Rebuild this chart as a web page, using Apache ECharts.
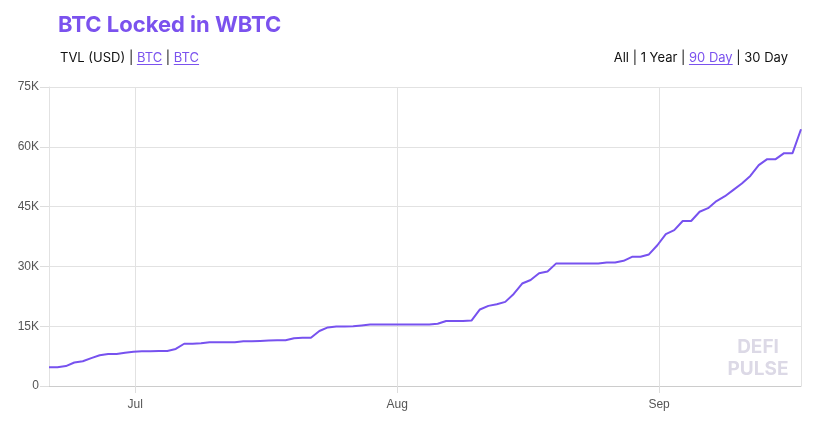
<!DOCTYPE html>
<html>
<head>
<meta charset="utf-8">
<script src="https://cdn.jsdelivr.net/npm/echarts@6/dist/echarts.min.js"></script>
<style>
html,body{margin:0;padding:0;background:#fff;}
#chart{width:828px;height:427px;}
</style>
</head>
<body>
<div id="chart"></div>
<script>
// ---- data ----
const startTime = '2020-06-20T19:00:00';
const dayCount = 90;
const values = [
  4.7, 4.7, 5.0, 5.9, 6.2, 7.0, 7.7, 8.0, 8.0, 8.35,
  8.6, 8.7, 8.7, 8.8, 8.8, 9.3, 10.6, 10.6, 10.7, 11.0,
  11.0, 11.0, 11.0, 11.2, 11.2, 11.3, 11.4, 11.5, 11.5, 12.0,
  12.1, 12.1, 13.8, 14.7, 14.9, 14.9, 15.0, 15.2, 15.4, 15.4,
  15.4, 15.4, 15.4, 15.4, 15.4, 15.4, 15.6, 16.3, 16.3, 16.3,
  16.4, 19.2, 20.1, 20.5, 21.1, 23.1, 25.7, 26.6, 28.3, 28.7,
  30.7, 30.7, 30.7, 30.7, 30.7, 30.7, 31.0, 31.0, 31.4, 32.4,
  32.4, 33.0, 35.3, 38.1, 39.1, 41.4, 41.4, 43.7, 44.6, 46.4,
  47.6, 49.2, 50.8, 52.7, 55.4, 56.9, 56.9, 58.4, 58.4, 64.4
].map(v => v * 1000);
const monthNames = ['Jan','Feb','Mar','Apr','May','Jun','Jul','Aug','Sep','Oct','Nov','Dec'];
const titleText = 'BTC Locked in WBTC';
const leftMenu = [['TVL (USD)', false], [' | ', false], ['BTC', true], [' | ', false], ['BTC', true]];
const rightMenu = [['All', false], [' | ', false], ['1 Year', false], [' | ', false], ['90 Day', true], [' | ', false], ['30 Day', false]];
const watermark = ['DEFI', 'PULSE'];

// ---- points (daily timestamps) ----
const DAY = 86400000;
const t0 = new Date(startTime).getTime();
const points = values.map((v, i) => [t0 + i * DAY, v]);

// ---- header text ----
const cv = document.createElement('canvas').getContext('2d');
const PURPLE = '#7b52ee';
const menuFont = '13px Inter';
function buildMenu(items, startX, alignRight, y) {
  cv.font = menuFont;
  const widths = items.map(it => cv.measureText(it[0]).width);
  const total = widths.reduce((a, b) => a + b, 0);
  let x = alignRight ? startX - total : startX;
  const els = [];
  items.forEach((it, k) => {
    els.push({
      type: 'text', x: x, y: y,
      style: { text: it[0], font: menuFont, fill: it[1] ? PURPLE : '#111', verticalAlign: 'middle' }
    });
    if (it[1]) {
      els.push({
        type: 'line',
        shape: { x1: x, y1: y + 6, x2: x + widths[k], y2: y + 6 },
        style: { stroke: PURPLE, lineWidth: 1 }
      });
    }
    x += widths[k];
  });
  return els;
}

const chart = echarts.init(document.getElementById('chart'), null, { renderer: 'canvas' });
const wmStyle = { font: '700 19px Inter', fill: '#dcd9e6', align: 'center', verticalAlign: 'middle',
  textShadowColor: '#c4bfd4', textShadowOffsetX: 1, textShadowOffsetY: 1, textShadowBlur: 0 };
const graphics = [
  { type: 'text', x: 58, y: 25, style: { text: titleText, font: '700 22px Inter', fill: PURPLE, verticalAlign: 'middle' } },
  ...buildMenu(leftMenu, 60, false, 58.5),
  ...buildMenu(rightMenu, 788, true, 58.5),
  { type: 'text', x: 758, y: 347, style: Object.assign({ text: watermark[0] }, wmStyle) },
  { type: 'text', x: 758, y: 369, style: Object.assign({ text: watermark[1] }, wmStyle) }
];

chart.setOption({
  animation: false,
  grid: { left: 49, right: 27, top: 87, bottom: 41, containLabel: false },
  xAxis: {
    type: 'time',
    min: 'dataMin', max: 'dataMax',
    minInterval: 28 * DAY, maxInterval: 31 * DAY,
    axisLine: { show: true, lineStyle: { color: '#cccccc', width: 1 } },
    axisTick: { show: true, length: 7, lineStyle: { color: '#dddddd' } },
    axisLabel: {
      formatter: (v) => monthNames[new Date(v).getMonth()],
      color: '#555', fontSize: 12, fontFamily: 'Liberation Sans', margin: 13,
      showMinLabel: false, showMaxLabel: false
    },
    splitLine: { show: true, lineStyle: { color: '#e2e2e2', width: 1 } }
  },
  yAxis: {
    type: 'value',
    min: 0, max: 75000, interval: 15000,
    axisLine: { show: true, lineStyle: { color: '#e2e2e2' } },
    axisTick: { show: true, length: 9, lineStyle: { color: '#dddddd' } },
    axisLabel: {
      formatter: (v) => v === 0 ? '0' : (v / 1000) + 'K',
      color: '#555', fontSize: 12, fontFamily: 'Liberation Sans', margin: 10
    },
    splitLine: { show: true, lineStyle: { color: '#e2e2e2', width: 1 } }
  },
  series: [{
    type: 'line',
    data: points,
    showSymbol: false,
    symbol: 'none',
    lineStyle: { color: '#7752ef', width: 2 },
    z: 3
  }],
  graphic: graphics
});
</script>
</body>
</html>
